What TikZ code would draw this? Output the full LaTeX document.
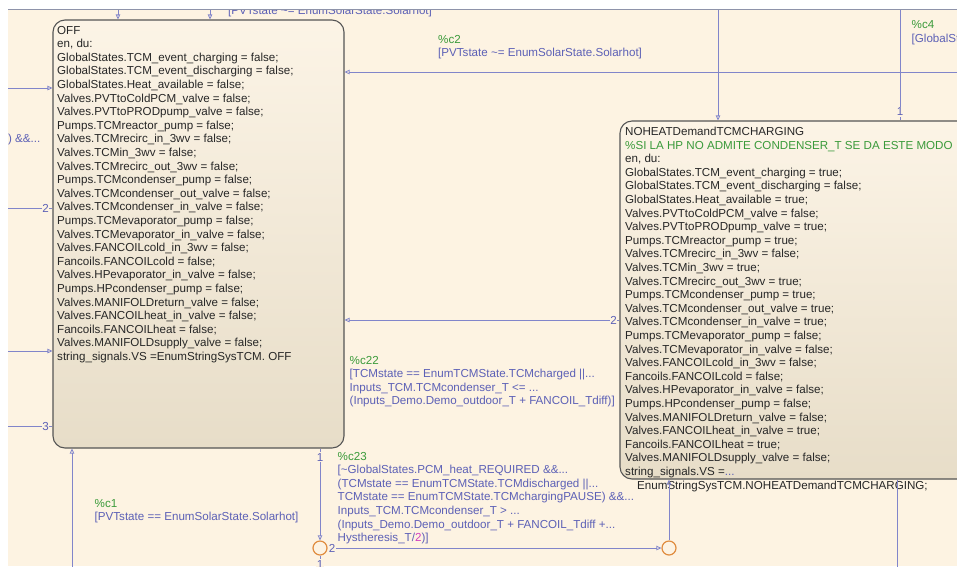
\documentclass[tikz,border=0pt]{standalone}
\usepackage{fontspec}
\setmainfont{Liberation Sans}
\usetikzlibrary{arrows.meta}

\definecolor{chartbg}{HTML}{FDF3E2}
\definecolor{statetop}{HTML}{FCF4E6}
\definecolor{statebot}{HTML}{E7DDC8}
\definecolor{stateedge}{HTML}{555555}
\definecolor{statetext}{HTML}{262626}
\definecolor{trline}{HTML}{8185CA}
\definecolor{trlabel}{HTML}{5C60B6}
\definecolor{commentcol}{HTML}{3A9A3A}
\definecolor{numcol}{HTML}{D23CC0}
\definecolor{junc}{HTML}{E08C3E}
\definecolor{framecol}{HTML}{8E93AA}

\newcommand{\chartfont}{\fontsize{11.6}{13.6}\selectfont}
\newcommand{\codelines}[1]{\begin{tabular}[t]{@{}l@{}}#1\end{tabular}}

\tikzset{
  state/.style={draw=stateedge, line width=1.1pt, rounded corners=12pt,
    top color=statetop, bottom color=statebot, inner sep=0pt},
  code/.style={anchor=base west, inner sep=0pt, font=\chartfont, text=statetext},
  lbl/.style={anchor=base west, inner sep=0pt, font=\chartfont, text=trlabel},
  tr/.style={draw=trline, line width=0.8pt, -{Triangle[open, length=5pt, width=4.5pt]}},
  trplain/.style={draw=trline, line width=0.8pt},
  ord/.style={font=\chartfont, text=trlabel, fill=chartbg, inner sep=0.6pt},
  junction/.style={circle, draw=junc, line width=1.2pt, minimum size=14pt, inner sep=0pt},
}

\begin{document}
\begin{tikzpicture}[x=1pt,y=-1pt]
\useasboundingbox (0,0) rectangle (957,566);
\fill[white] (0,0) rectangle (957,566);
\begin{scope}
\clip (8,9) rectangle (957,566);
\fill[chartbg] (8,9) rectangle (957,566);

% states
\node[state, minimum width=291pt, minimum height=428pt] (off) at (198.5,234) {};
\node[state, minimum width=380pt, minimum height=358pt] (noheat) at (810,300) {};

% junctions
\node[junction] (j1) at (320,548) {};
\node[junction] (j2) at (669,548) {};

% state actions
\node[code] (offtext) at (57,34) {\codelines{%
OFF\\
en, du:\\
GlobalStates.TCM\_event\_charging = false;\\
GlobalStates.TCM\_event\_discharging = false;\\
GlobalStates.Heat\_available = false;\\
Valves.PVTtoColdPCM\_valve = false;\\
Valves.PVTtoPRODpump\_valve = false;\\
Pumps.TCMreactor\_pump = false;\\
Valves.TCMrecirc\_in\_3wv = false;\\
Valves.TCMin\_3wv = false;\\
Valves.TCMrecirc\_out\_3wv = false;\\
Pumps.TCMcondenser\_pump = false;\\
Valves.TCMcondenser\_out\_valve = false;\\
Valves.TCMcondenser\_in\_valve = false;\\
Pumps.TCMevaporator\_pump = false;\\
Valves.TCMevaporator\_in\_valve = false;\\
Valves.FANCOILcold\_in\_3wv = false;\\
Fancoils.FANCOILcold = false;\\
Valves.HPevaporator\_in\_valve = false;\\
Pumps.HPcondenser\_pump = false;\\
Valves.MANIFOLDreturn\_valve = false;\\
Valves.FANCOILheat\_in\_valve = false;\\
Fancoils.FANCOILheat = false;\\
Valves.MANIFOLDsupply\_valve = false;\\
string\_signals.VS =EnumStringSysTCM. OFF}};

\node[code] (noheattext) at (625,135.5) {\codelines{%
NOHEATDemandTCMCHARGING\\
{\color{commentcol}\%SI LA HP NO ADMITE CONDENSER\_T SE DA ESTE MODO}\\
en, du:\\
GlobalStates.TCM\_event\_charging = true;\\
GlobalStates.TCM\_event\_discharging = false;\\
GlobalStates.Heat\_available = true;\\
Valves.PVTtoColdPCM\_valve = false;\\
Valves.PVTtoPRODpump\_valve = true;\\
Pumps.TCMreactor\_pump = true;\\
Valves.TCMrecirc\_in\_3wv = false;\\
Valves.TCMin\_3wv = true;\\
Valves.TCMrecirc\_out\_3wv = true;\\
Pumps.TCMcondenser\_pump = true;\\
Valves.TCMcondenser\_out\_valve = true;\\
Valves.TCMcondenser\_in\_valve = true;\\
Pumps.TCMevaporator\_pump = false;\\
Valves.TCMevaporator\_in\_valve = false;\\
Valves.FANCOILcold\_in\_3wv = false;\\
Fancoils.FANCOILcold = false;\\
Valves.HPevaporator\_in\_valve = false;\\
Pumps.HPcondenser\_pump = false;\\
Valves.MANIFOLDreturn\_valve = false;\\
Valves.FANCOILheat\_in\_valve = true;\\
Fancoils.FANCOILheat = true;\\
Valves.MANIFOLDsupply\_valve = false;\\
string\_signals.VS ={\color{trlabel}...}\\
\hspace{12pt}EnumStringSysTCM.NOHEATDemandTCMCHARGING;}};

% transitions entering from above
\coordinate (topA) at (118,5);
\coordinate (topB) at (210,5);
\draw[tr] (topA) -- (topA |- off.north);
\draw[tr] (topB) -- (topB |- off.north);
\node[lbl] (toplab) at (228,14.7) {[PVTstate \textasciitilde= EnumSolarState.Solarhot]};

% c2: into OFF from the right
\coordinate (c2s) at (962,72);
\draw[tr] (c2s) -- (c2s -| off.east);
\node[lbl] (c2lab) at (438,43) {\codelines{{\color{commentcol}\%c2}\\
{[}PVTstate \textasciitilde= EnumSolarState.Solarhot]}};

% left side of OFF
\coordinate (lin1) at (3,88);
\coordinate (lout2) at (3,208);
\coordinate (lin2) at (3,351);
\coordinate (lout3) at (3,426);
\draw[tr] (lin1) -- (lin1 -| off.west);
\draw[trplain] (lout2 -| off.west) -- (lout2);
\draw[tr] (lin2) -- (lin2 -| off.west);
\draw[trplain] (lout3 -| off.west) -- (lout3);
\node[ord] (ordl2) at (45.5,208) {2};
\node[ord] (ordl3) at (45.5,426) {3};
\node[lbl, anchor=base east] (leftlab) at (40.5,142) {) \&\&...};

% c22: NOHEAT back to OFF
\coordinate (c22y) at (0,320);
\draw[tr] (c22y -| noheat.west) -- (c22y -| off.east);
\node[ord] (ord22) at (613.5,320) {2};
\node[lbl] (c22lab) at (349.5,364) {\codelines{{\color{commentcol}\%c22}\\
{[}TCMstate == EnumTCMState.TCMcharged ||...\\
Inputs\_TCM.TCMcondenser\_T <= ...\\
(Inputs\_Demo.Demo\_outdoor\_T + FANCOIL\_Tdiff)]}};

% c1: into OFF from below
\coordinate (c1s) at (72,572);
\draw[tr] (c1s) -- (c1s |- off.south);
\node[lbl] (c1lab) at (94.5,507) {\codelines{{\color{commentcol}\%c1}\\
{[}PVTstate == EnumSolarState.Solarhot]}};

% c23: OFF through the junctions to NOHEAT
\draw[tr] (j1 |- off.south) -- (j1.north);
\node[ord] (ord23) at (320,457) {1};
\draw[tr] (j1.east) -- (j2.west);
\node[ord] (ordj1) at (332,548) {2};
\draw[tr] (j2.north) -- (j2 |- noheat.south);
\coordinate (j1d) at (320,572);
\draw[trplain] (j1.south) -- (j1d);
\node[ord] (ordj1d) at (320,564) {1};
\node[lbl] (c23lab) at (337.5,460) {\codelines{{\color{commentcol}\%c23}\\
{[}\textasciitilde GlobalStates.PCM\_heat\_REQUIRED \&\&...\\
(TCMstate == EnumTCMState.TCMdischarged ||...\\
TCMstate == EnumTCMState.TCMchargingPAUSE) \&\&...\\
Inputs\_TCM.TCMcondenser\_T > ...\\
(Inputs\_Demo.Demo\_outdoor\_T + FANCOIL\_Tdiff +...\\
Hystheresis\_T/{\color{numcol}2})]}};

% NOHEAT top and bottom connectors
\coordinate (nt1) at (718,5);
\coordinate (nt2) at (900,5);
\coordinate (nb) at (897,572);
\draw[tr] (nt1) -- (nt1 |- noheat.north);
\draw[trplain] (nt2 |- noheat.north) -- (nt2);
\node[ord] (ordnt2) at (900,112) {1};
\draw[trplain] (nb |- noheat.south) -- (nb);
\node[lbl] (c4lab) at (911.5,28.5) {\codelines{{\color{commentcol}\%c4}\\
{[}GlobalStates.}};

% chart frame
\draw[framecol, line width=1.4pt] (8,9) -- (957,9);
\end{scope}
\end{tikzpicture}
\end{document}
